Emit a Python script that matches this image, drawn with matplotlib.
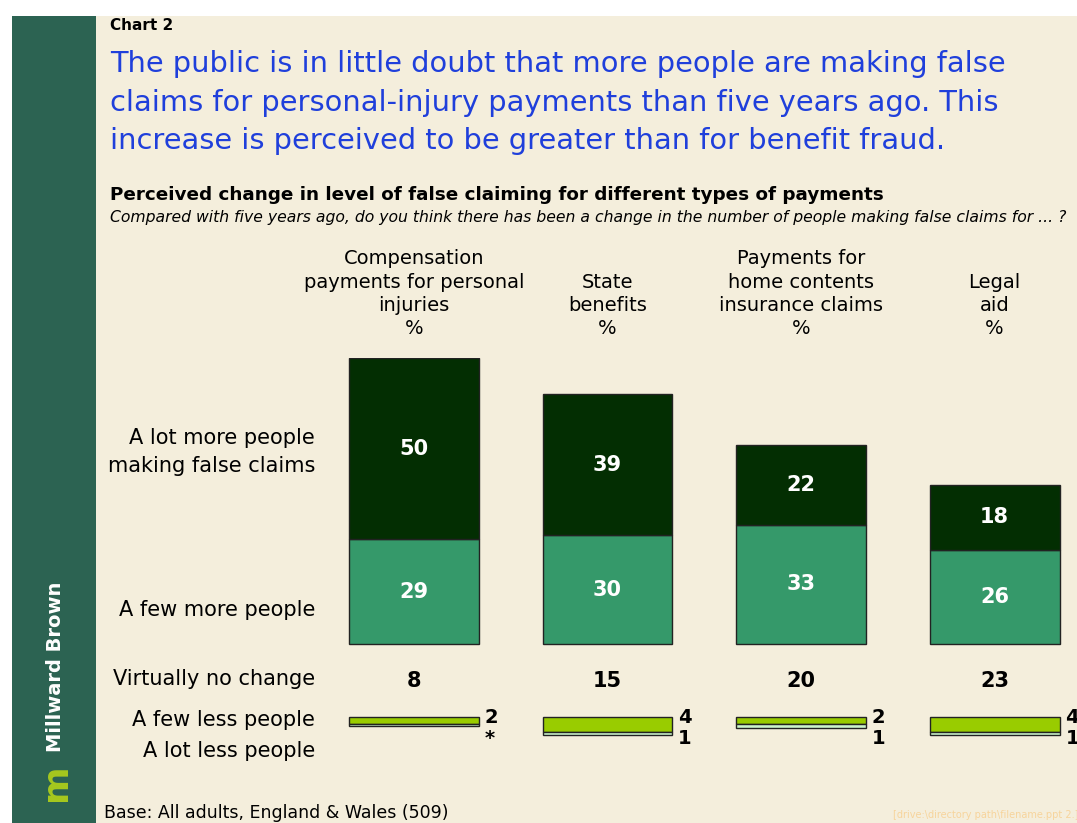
import matplotlib
matplotlib.use("Agg")
import matplotlib.pyplot as plt
import numpy as np
from matplotlib.patches import Rectangle
from matplotlib.transforms import blended_transform_factory

W, H = 1077, 823

# data
headers = ["Compensation\npayments for personal\ninjuries\n%",
           "State\nbenefits\n%",
           "Payments for\nhome contents\ninsurance claims\n%",
           "Legal\naid\n%"]
lot_more = [50, 39, 22, 18]
few_more = [29, 30, 33, 26]
no_change = [8, 15, 20, 23]
few_less = [2, 4, 2, 4]
lot_less = [0.5, 1, 1, 1]
lot_less_labels = ["*", "1", "1", "1"]
row_labels = ["A lot more people\nmaking false claims", "A few more people",
              "Virtually no change", "A few less people", "A lot less people"]

BG = "#f4eedc"
DARK = "#032e02"
MID = "#35996a"
LIME = "#99cc00"
PALE = "#ccf5cc"
SIDE = "#2c6352"
BLUE = "#1f3fdb"


def fx(px):
    return px / W


def fy(px):
    return 1 - px / H


fig = plt.figure(figsize=(W / 100, H / 100), dpi=100)
fig.patch.set_facecolor("white")

# beige panel and green sidebar
fig.patches.append(Rectangle((fx(12), 0), 1, fy(16), transform=fig.transFigure,
                             facecolor=BG, edgecolor="none", zorder=-10))
fig.patches.append(Rectangle((fx(12), 0), fx(96) - fx(12), fy(16), transform=fig.transFigure,
                             facecolor=SIDE, edgecolor="none", zorder=-9))
fig.text(fx(56), fy(667), "Millward Brown", rotation=90, color="white",
         fontsize=14, fontweight="bold", ha="center", va="center")
fig.text(fx(56), fy(782), "m", rotation=90, color="#a6c81e", fontsize=26,
         fontweight="bold", ha="center", va="center")

fig.text(fx(110), fy(25), "Chart 2", fontsize=11, fontweight="bold", va="center")
fig.text(fx(110), fy(50),
         "The public is in little doubt that more people are making false\n"
         "claims for personal-injury payments than five years ago. This\n"
         "increase is perceived to be greater than for benefit fraud.",
         fontsize=20.8, color=BLUE, va="top", linespacing=1.48)
fig.text(fx(110), fy(195),
         "Perceived change in level of false claiming for different types of payments",
         fontsize=13.2, fontweight="bold", va="center")
fig.text(fx(110), fy(218),
         "Compared with five years ago, do you think there has been a change in the number "
         "of people making false claims for ... ?",
         fontsize=11.25, style="italic", va="center")
fig.text(fx(104), fy(813), "Base: All adults, England & Wales (509)", fontsize=12.5, va="center")
fig.text(fx(893), fy(815), "[drive:\\directory path\\filename.ppt 2.]", fontsize=7,
         color="#f7d49c", va="center")

# bars: 3.62 px per percentage point, baseline at y=644px
ax = fig.add_axes([fx(317), fy(752.6), fx(1076) - fx(317), fy(358) - fy(752.6)])
ax.set_xlim(-0.5, 3.42)
ax.set_ylim(-30, 79)
ax.axis("off")

x = np.arange(len(headers))
w = 0.67
ax.bar(x, few_more, w, color=MID, edgecolor="#222222", linewidth=1)
ax.bar(x, lot_more, w, bottom=few_more, color=DARK, edgecolor="#222222", linewidth=1)

small_top = -20.2
fl = np.array(few_less)
ll = np.array(lot_less)
ax.bar(x, fl, w, bottom=small_top - fl, color=LIME, edgecolor="#222222", linewidth=1)
ax.bar(x, ll, w, bottom=small_top - fl - ll, color=PALE, edgecolor="#222222", linewidth=1)

for i in x:
    ax.text(i, few_more[i] + lot_more[i] / 2, str(lot_more[i]), color="white",
            fontsize=15, fontweight="bold", ha="center", va="center")
    ax.text(i, few_more[i] / 2, str(few_more[i]), color="white",
            fontsize=15, fontweight="bold", ha="center", va="center")
    ax.text(i, -10.2, str(no_change[i]), color="black",
            fontsize=15, fontweight="bold", ha="center", va="center")
    ax.text(i + w / 2 + 0.03, -20.3, str(few_less[i]), fontsize=14,
            fontweight="bold", ha="left", va="center")
    ax.text(i + w / 2 + 0.03, -26.2, lot_less_labels[i], fontsize=14,
            fontweight="bold", ha="left", va="center")

# column headers
tr = blended_transform_factory(ax.transData, fig.transFigure)
for i, h in enumerate(headers):
    ax.text(i, fy(338), h, transform=tr, ha="center", va="bottom",
            fontsize=14, linespacing=1.28, multialignment="center")

# row labels
row_y = [452, 610, 679, 720, 751]
for lab, py in zip(row_labels, row_y):
    fig.text(fx(315), fy(py), lab, ha="right", va="center", fontsize=15,
             linespacing=1.52, multialignment="right")

fig.savefig("out.png", dpi=100, facecolor=fig.get_facecolor())
